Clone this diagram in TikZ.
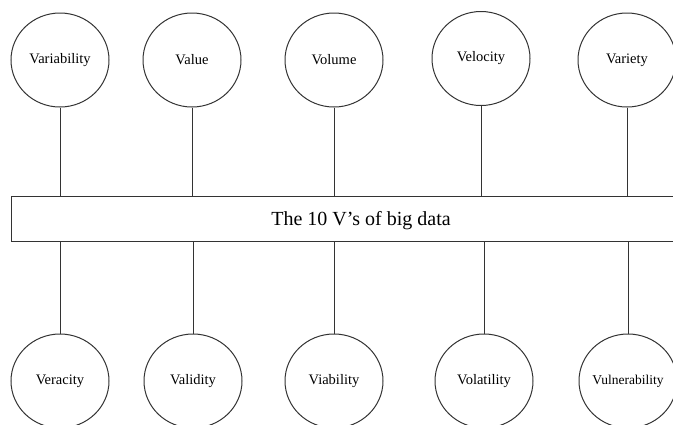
\documentclass[tikz,border=0pt]{standalone}
\usepackage{fontspec}
\setmainfont{Liberation Serif}
\usetikzlibrary{shapes.geometric}
\newcommand{\zw}[1]{\makebox[0pt][c]{#1}}
\begin{document}
\begin{tikzpicture}[x=1pt,y=-1pt,
  vbubble/.style={draw=black!80, line width=1pt, ellipse, minimum width=98pt, minimum height=94pt, inner sep=0pt, font=\fontsize{14.5}{16}\selectfont},
  link/.style={draw=black!80, line width=1pt},
  boxside/.style={draw=black!80, line width=1pt}]
\useasboundingbox (0,0) rectangle (673,424);
% box
\node[minimum width=661pt, minimum height=44pt, inner sep=0pt] (box) at (342.5,219) {};
\draw[boxside] (box.north east) -- (box.north west) -- (box.south west) -- (box.south east);
\node[font=\fontsize{20}{22}\selectfont, inner sep=0pt] (title) at (361,221) {The 10 V’s of big data};
% top
\node[vbubble] (t1) at (60,60) {\zw{Variability}};
\node[vbubble] (t2) at (192,60) {\zw{Value}};
\node[vbubble] (t3) at (334,60) {\zw{Volume}};
\node[vbubble] (t4) at (481,58.5) {\zw{Velocity}};
\node[vbubble] (t5) at (627,60) {\zw{Variety}};
% bottom
\node[vbubble] (b1) at (60,381) {\zw{\raisebox{-3pt}{Veracity}}};
\node[vbubble] (b2) at (193,381) {\zw{Validity}};
\node[vbubble] (b3) at (334,381) {\zw{Viability}};
\node[vbubble] (b4) at (484,381) {\zw{Volatility}};
\node[vbubble] (b5) at (628,381) {\zw{\fontsize{13.5}{15}\selectfont Vulnerability}};
\foreach \n in {t1,t2,t3,t4,t5}{\draw[link] (\n.south) -- (\n.south |- box.north);}
\foreach \n in {b1,b2,b3,b4,b5}{\draw[link] (\n.north) -- (\n.north |- box.south);}
\end{tikzpicture}
\end{document}
